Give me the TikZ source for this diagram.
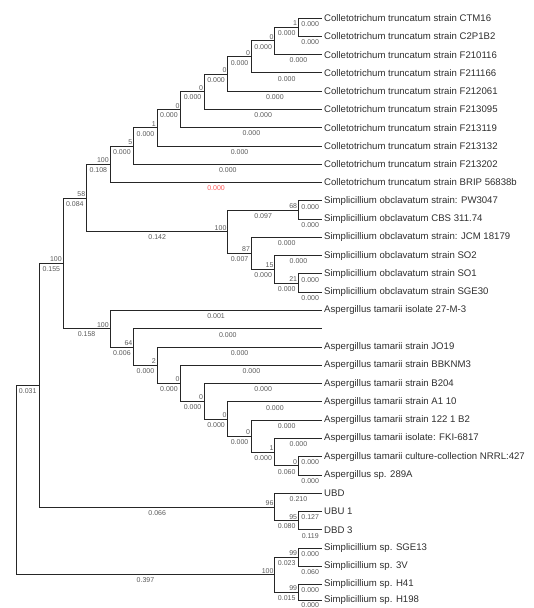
\documentclass[tikz,border=0pt]{standalone}
\usepackage{fontspec}
\setmainfont{Liberation Sans}
\newcommand{\brnode}[4]{ % parent, child, length, support
  \draw[twig] (#1) |- node[lenlab] {#3} (#2);
  \node[suplab] at (#2) {#4};
}
\newcommand{\brleaf}[3]{ % parent, leaf, length
  \draw[twig] (#1) |- node[lenlab] {#3} (#2.west);
}

\begin{document}
\begin{tikzpicture}[x=1pt, y=-1pt]

    % Colours of lines and texts
    \colorlet{branchcol}{black!85}
    \colorlet{leafcol}{black!82}
    \colorlet{lencol}{black!65}
    \colorlet{redlab}{red!65}

    % Styles for branches, leaf names and branch labels
    \tikzset{twig/.style={draw=branchcol, line width=1pt}}
    \tikzset{leaf/.style={anchor=west, inner sep=2pt, text=leafcol, font=\fontsize{9.6}{11}\selectfont}}
    \tikzset{lenlab/.style={pos=0.75, below=2.3pt, inner sep=0.6pt, text=lencol, font=\fontsize{7}{8}\selectfont}}
    \tikzset{suplab/.style={above left=0.6pt, inner sep=0.6pt, text=lencol, font=\fontsize{7}{8}\selectfont}}

    \useasboundingbox (0,0) rectangle (534,608);

    % Leaf names, all aligned at the right end
    \node[leaf] (ctm16)   at (322,18.0)  {Colletotrichum truncatum strain CTM16};
    \node[leaf] (c2p1b2)  at (322,36.3)  {Colletotrichum truncatum strain C2P1B2};
    \node[leaf] (f210116) at (322,54.6)  {Colletotrichum truncatum strain F210116};
    \node[leaf] (f211166) at (322,72.8)  {Colletotrichum truncatum strain F211166};
    \node[leaf] (f212061) at (322,91.1)  {Colletotrichum truncatum strain F212061};
    \node[leaf] (f213095) at (322,109.4) {Colletotrichum truncatum strain F213095};
    \node[leaf] (f213119) at (322,127.7) {Colletotrichum truncatum strain F213119};
    \node[leaf] (f213132) at (322,146.0) {Colletotrichum truncatum strain F213132};
    \node[leaf] (f213202) at (322,164.2) {Colletotrichum truncatum strain F213202};
    \node[leaf] (brip)    at (322,182.5) {Colletotrichum truncatum strain BRIP 56838b};
    \node[leaf] (pw3047)  at (322,200.8) {Simplicillium obclavatum strain: PW3047};
    \node[leaf] (cbs311)  at (322,219.1) {Simplicillium obclavatum CBS 311.74};
    \node[leaf] (jcm18179) at (322,237.4) {Simplicillium obclavatum strain: JCM 18179};
    \node[leaf] (so2)     at (322,255.6) {Simplicillium obclavatum strain SO2};
    \node[leaf] (so1)     at (322,273.9) {Simplicillium obclavatum strain SO1};
    \node[leaf] (sge30)   at (322,292.2) {Simplicillium obclavatum strain SGE30};
    \node[leaf] (tm27m3)  at (322,310.5) {Aspergillus tamarii isolate 27-M-3};
    \coordinate (gap17)   at (322,328.8);
    \node[leaf] (jo19)    at (322,347.0) {Aspergillus tamarii strain JO19};
    \node[leaf] (bbknm3)  at (322,365.3) {Aspergillus tamarii strain BBKNM3};
    \node[leaf] (b204)    at (322,383.6) {Aspergillus tamarii strain B204};
    \node[leaf] (a110)    at (322,401.9) {Aspergillus tamarii strain A1 10};
    \node[leaf] (b122)    at (322,420.2) {Aspergillus tamarii strain 122 1 B2};
    \node[leaf] (fki6817) at (322,438.4) {Aspergillus tamarii isolate: FKI-6817};
    \node[leaf] (nrrl427) at (322,456.7) {Aspergillus tamarii culture-collection NRRL:427};
    \node[leaf] (sp289a)  at (322,475.0) {Aspergillus sp. 289A};
    \node[leaf] (ubd)     at (322,493.3) {UBD};
    \node[leaf] (ubu1)    at (322,511.6) {UBU 1};
    \node[leaf] (dbd3)    at (322,529.8) {DBD 3};
    \node[leaf] (sge13)   at (322,548.1) {Simplicillium sp. SGE13};
    \node[leaf] (sp3v)    at (322,566.4) {Simplicillium sp. 3V};
    \node[leaf] (h41)     at (322,584.2) {Simplicillium sp. H41};
    \node[leaf] (h198)    at (322,600.0) {Simplicillium sp. H198};

    % Inner nodes of the tree
    \coordinate (root) at (16.0,480.0);
    \coordinate (grpA) at (39.5,385.2);
    \coordinate (grpB) at (63.1,263.3);
    \coordinate (grpC) at (86.6,198.0);
    \coordinate (ct9) at (110.1,164.3);
    \coordinate (ct8) at (133.7,146.0);
    \coordinate (ct7) at (157.2,127.9);
    \coordinate (ct6) at (180.8,109.7);
    \coordinate (ct5) at (204.3,91.7);
    \coordinate (ct4) at (227.8,74.0);
    \coordinate (ct3) at (251.4,56.9);
    \coordinate (ct2) at (274.9,40.9);
    \coordinate (ct1) at (298.5,27.2);
    \coordinate (ob1) at (227.8,231.7);
    \coordinate (ob2) at (298.5,210.0);
    \coordinate (ob3) at (251.4,253.4);
    \coordinate (ob4) at (274.9,269.3);
    \coordinate (ob5) at (298.5,283.1);
    \coordinate (as1) at (110.1,328.7);
    \coordinate (as2) at (133.7,347.0);
    \coordinate (as3) at (157.2,365.2);
    \coordinate (as4) at (180.8,383.3);
    \coordinate (as5) at (204.3,401.3);
    \coordinate (as6) at (227.8,419.0);
    \coordinate (as7) at (251.4,436.2);
    \coordinate (as8) at (274.9,452.1);
    \coordinate (as9) at (298.5,465.9);
    \coordinate (ub1) at (274.9,507.0);
    \coordinate (ub2) at (298.5,520.7);
    \coordinate (sp1) at (274.9,574.7);
    \coordinate (sp2) at (298.5,557.3);
    \coordinate (sp3) at (298.5,592.1);

    % Deep branches
    \draw[twig] (root) |- node[lenlab] {0.031} (grpA);
    \brnode{root}{sp1}{0.397}{100}
    \brnode{grpA}{grpB}{0.155}{100}
    \brnode{grpA}{ub1}{0.066}{96}
    \brnode{grpB}{grpC}{0.084}{58}
    \brnode{grpB}{as1}{0.158}{100}
    \brnode{grpC}{ct9}{0.108}{100}
    \brnode{grpC}{ob1}{0.142}{100}

    % Colletotrichum clade
    \draw[twig] (ct9) |- node[lenlab, text=redlab] {0.000} (brip.west);
    \brnode{ct9}{ct8}{0.000}{5}
    \brleaf{ct8}{f213202}{0.000}
    \brnode{ct8}{ct7}{0.000}{1}
    \brleaf{ct7}{f213132}{0.000}
    \brnode{ct7}{ct6}{0.000}{0}
    \brleaf{ct6}{f213119}{0.000}
    \brnode{ct6}{ct5}{0.000}{0}
    \brleaf{ct5}{f213095}{0.000}
    \brnode{ct5}{ct4}{0.000}{0}
    \brleaf{ct4}{f212061}{0.000}
    \brnode{ct4}{ct3}{0.000}{0}
    \brleaf{ct3}{f211166}{0.000}
    \brnode{ct3}{ct2}{0.000}{0}
    \brleaf{ct2}{f210116}{0.000}
    \brnode{ct2}{ct1}{0.000}{1}
    \brleaf{ct1}{ctm16}{0.000}
    \brleaf{ct1}{c2p1b2}{0.000}

    % Simplicillium obclavatum clade
    \brnode{ob1}{ob2}{0.097}{68}
    \brnode{ob1}{ob3}{0.007}{87}
    \brleaf{ob2}{pw3047}{0.000}
    \brleaf{ob2}{cbs311}{0.000}
    \brleaf{ob3}{jcm18179}{0.000}
    \brnode{ob3}{ob4}{0.000}{15}
    \brleaf{ob4}{so2}{0.000}
    \brnode{ob4}{ob5}{0.000}{21}
    \brleaf{ob5}{so1}{0.000}
    \brleaf{ob5}{sge30}{0.000}

    % Aspergillus clade
    \brleaf{as1}{tm27m3}{0.001}
    \brnode{as1}{as2}{0.006}{64}
    \draw[twig] (as2) |- node[lenlab] {0.000} (gap17);
    \brnode{as2}{as3}{0.000}{2}
    \brleaf{as3}{jo19}{0.000}
    \brnode{as3}{as4}{0.000}{0}
    \brleaf{as4}{bbknm3}{0.000}
    \brnode{as4}{as5}{0.000}{0}
    \brleaf{as5}{b204}{0.000}
    \brnode{as5}{as6}{0.000}{0}
    \brleaf{as6}{a110}{0.000}
    \brnode{as6}{as7}{0.000}{0}
    \brleaf{as7}{b122}{0.000}
    \brnode{as7}{as8}{0.000}{1}
    \brleaf{as8}{fki6817}{0.000}
    \brnode{as8}{as9}{0.060}{0}
    \brleaf{as9}{nrrl427}{0.000}
    \brleaf{as9}{sp289a}{0.000}

    % UBD group
    \brleaf{ub1}{ubd}{0.210}
    \brnode{ub1}{ub2}{0.080}{95}
    \brleaf{ub2}{ubu1}{0.127}
    \brleaf{ub2}{dbd3}{0.119}

    % Simplicillium sp. group
    \brnode{sp1}{sp2}{0.023}{99}
    \brnode{sp1}{sp3}{0.015}{99}
    \brleaf{sp2}{sge13}{0.000}
    \brleaf{sp2}{sp3v}{0.060}
    \brleaf{sp3}{h41}{0.000}
    \draw[twig] (sp3) |- node[lenlab, below=-1.2pt] {0.000} (h198.west);

\end{tikzpicture}
\end{document}
